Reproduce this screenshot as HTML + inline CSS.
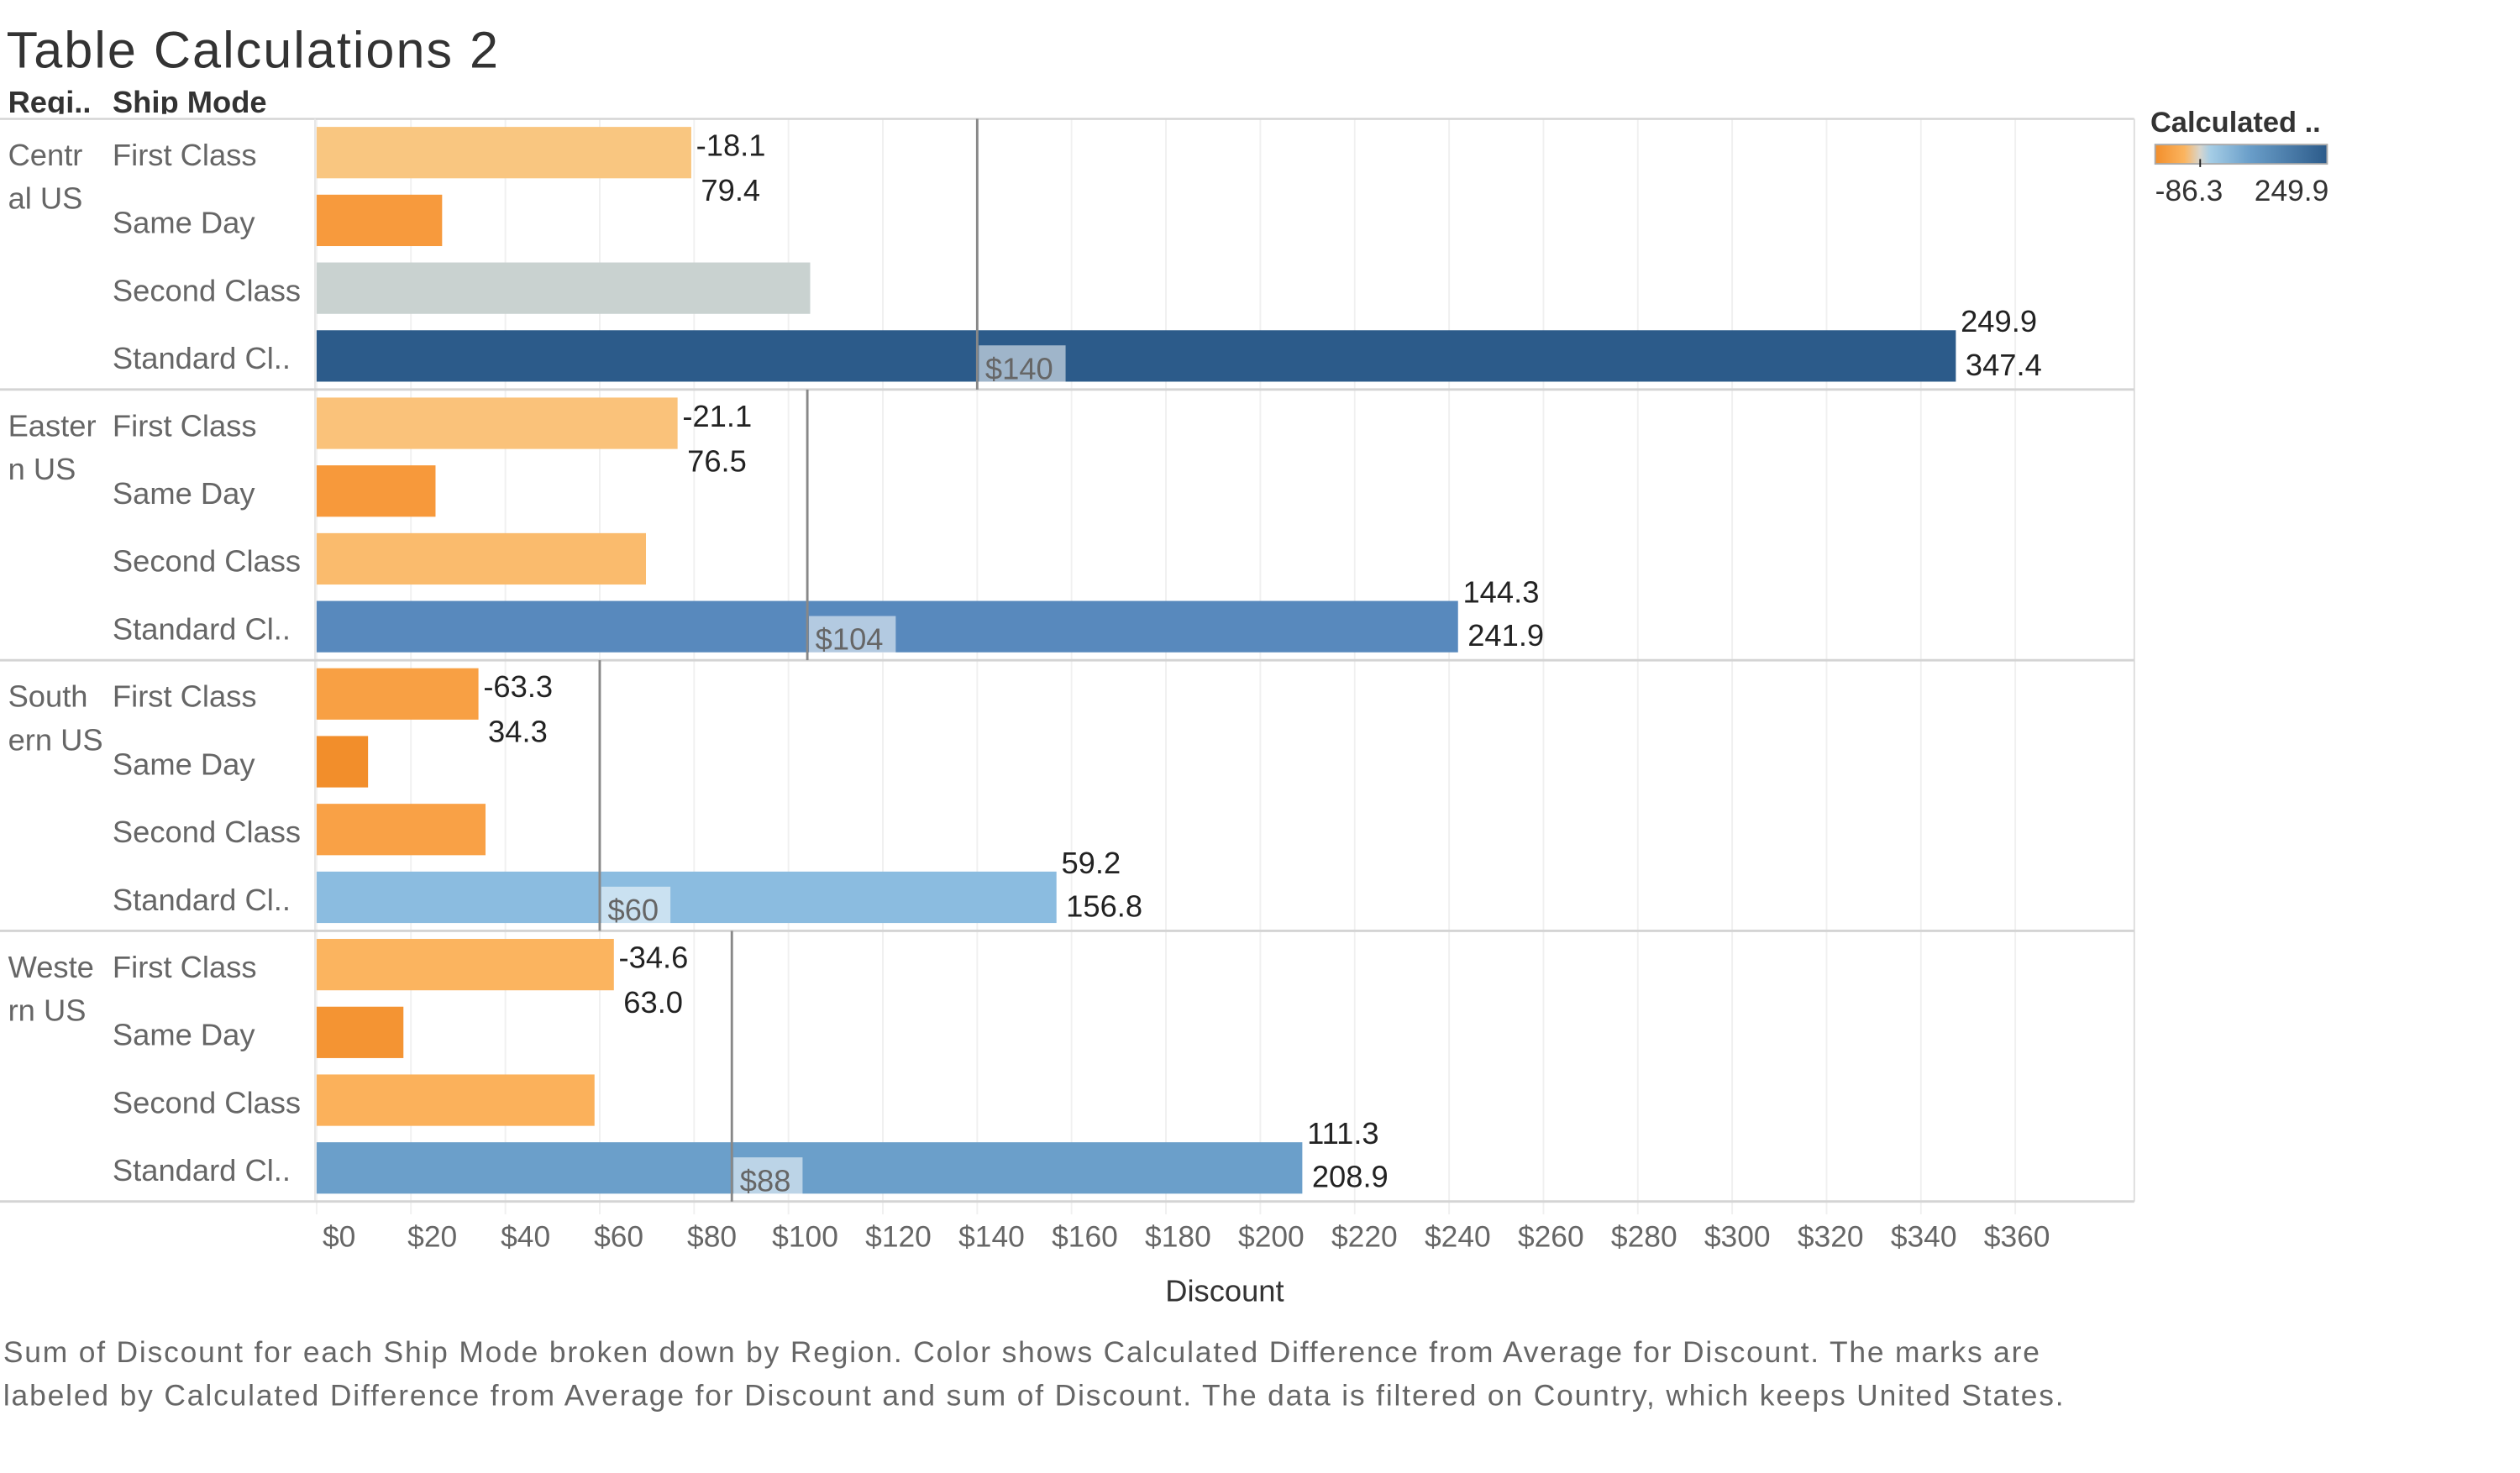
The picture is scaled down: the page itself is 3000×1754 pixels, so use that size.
<!DOCTYPE html>
<html><head><meta charset="utf-8"><style>
html,body{margin:0;padding:0;background:#fff;}
svg{display:block;font-family:"Liberation Sans",sans-serif;}
</style></head><body>
<svg id="chart" width="3000" height="1754" viewBox="0 0 1568 917" preserveAspectRatio="none" xmlns="http://www.w3.org/2000/svg">
<text x="4" y="42" font-size="32" fill="#333" textLength="306">Table Calculations 2</text>
<g id="grid"></g><g id="marks"></g><g id="labels"></g>
</svg>
<script>
const regions = ["Central US","Eastern US","Southern US","Western US"];
const regionLines = [["Centr","al US"],["Easter","n US"],["South","ern US"],["Weste","rn US"]];
const shipModes = ["First Class","Same Day","Second Class","Standard Cl.."];
const discount = [
  [79.4, 26.6, 104.6, 347.4],
  [76.5, 25.2, 69.8, 241.9],
  [34.3, 10.9, 35.8, 156.8],
  [63.0, 18.4, 58.9, 208.9]
];
const diffFromAvg = [
  [-18.1, -70.9, 7.1, 249.9],
  [-21.1, -72.4, -27.8, 144.3],
  [-63.3, -86.3, -61.8, 59.2],
  [-34.6, -79.2, -38.7, 111.3]
];
const refAvg = [140, 104, 60, 88];
const refLabels = ["$140","$104","$60","$88"];
const xTicks = [0,20,40,60,80,100,120,140,160,180,200,220,240,260,280,300,320,340,360];

const NS="http://www.w3.org/2000/svg";
const svg=document.getElementById('chart');
const G=document.getElementById('grid'),M=document.getElementById('marks'),L=document.getElementById('labels');
const X0=197, K=2.936, PT=74, RH=168.5, ROW=42.2, PR=1328;
const x=v=>X0+v*K;
const xl=v=>211+v*2.9;
function el(t,a,p,txt){const e=document.createElementNS(NS,t);for(const k in a)e.setAttribute(k,a[k]);if(txt!==undefined)e.textContent=txt;p.appendChild(e);return e;}
function hex(h){return [1,3,5].map(i=>parseInt(h.substr(i,2),16));}
function lerpStops(stops,t){for(let i=1;i<stops.length;i++){if(t<=stops[i][0]){const a=stops[i-1],b=stops[i];const f=(t-a[0])/(b[0]-a[0]);const c1=hex(a[1]),c2=hex(b[1]);return 'rgb('+c1.map((c,j)=>Math.round(c+(c2[j]-c)*f)).join(',')+')';}}return stops[stops.length-1][1];}
const negStops=[[0,'#d8d5cc'],[0.15,'#f9cb8b'],[0.4,'#fbb45f'],[0.8,'#f89c3f'],[1,'#f28e2b']];
const posStops=[[0,'#d8d5cc'],[0.03,'#c8d2d0'],[0.1,'#a8cde4'],[0.24,'#8abce0'],[0.45,'#6a9ec9'],[0.58,'#5889bd'],[1,'#2c5b8a']];
function color(d){return d<0?lerpStops(negStops,Math.min(1,-d/86.3)):lerpStops(posStops,Math.min(1,d/249.9));}

xTicks.forEach(v=>{const g=el('line',{x1:x(v),x2:x(v),y1:PT,y2:PT+4*RH+8,stroke:'#f0f0f0','stroke-width':1},G);
 const t=el('text',{x:xl(v),y:776,'font-size':18.5,fill:'#666','text-anchor':'middle'},L,'$'+v);});
const cp=el('clipPath',{id:'hc'},svg);el('rect',{x:0,y:50,width:300,height:21},cp);
const hdr=el('g',{'clip-path':'url(#hc)'},L);
let h1=el('text',{x:5,y:70,'font-size':19,fill:'#333','font-weight':'bold'},hdr,'Regi..');
let h2=el('text',{x:70,y:70,'font-size':19,fill:'#333','font-weight':'bold'},hdr,'Ship Mode');
el('line',{x1:0,x2:PR,y1:PT,y2:PT,stroke:'#d4d4d4','stroke-width':1.2},G);
el('line',{x1:196,x2:196,y1:PT,y2:PT+4*RH,stroke:'#e6e6e6'},G);
el('line',{x1:PR,x2:PR,y1:PT,y2:PT+4*RH,stroke:'#dcdcdc'},G);

regions.forEach((r,ri)=>{
  const top=PT+ri*RH;
  const sep=el('line',{x1:0,x2:PR,y1:top+RH,y2:top+RH,stroke:'#d4d4d4','stroke-width':1.5},G);
  
  regionLines[ri].forEach((s,k)=>{const t=el('text',{x:5,y:top+29+k*27,'font-size':19,fill:'#666'},L,s);});
  shipModes.forEach((m,mi)=>{
    const rt=top+mi*ROW, by=rt+5, v=discount[ri][mi], d=diffFromAvg[ri][mi];
    const t=el('text',{x:70,y:rt+29,'font-size':19,fill:'#666'},L,m);
    const b=el('rect',{x:x(0),y:by,width:x(v)-x(0),height:32,fill:color(d)},M);
    
    
    if(mi===0||mi===3){
      const o=mi===0?[18,46]:[1,28];
      const a1=el('text',{x:x(v)+3,y:by+o[0],'font-size':19,fill:'#222'},L,d.toFixed(1));
      const a2=el('text',{x:x(v)+6,y:by+o[1],'font-size':19,fill:'#222'},L,v.toFixed(1));
    }
  });
  const ax=x(refAvg[ri]);
  const rl=el('line',{x1:ax,x2:ax,y1:top,y2:top+RH,stroke:'#888','stroke-width':1.5},L);
  
  const bx=el('rect',{x:ax+1,y:top+141,width:refLabels[ri].length*11+10,height:23,fill:'rgba(255,255,255,0.55)'},L);
  
  const rt2=el('text',{x:ax+5,y:top+162,'font-size':19,fill:'#666'},L,refLabels[ri]);
  
});
let at=el('text',{x:762,y:810,'font-size':19,fill:'#333','text-anchor':'middle'},L,'Discount');
let c1=el('text',{x:2,y:848,'font-size':18.5,fill:'#666',textLength:1267},L,'Sum of Discount for each Ship Mode broken down by Region.  Color shows Calculated Difference from Average for Discount.  The marks are');

let c2=el('text',{x:2,y:875,'font-size':18.5,fill:'#666',textLength:1282},L,'labeled by Calculated Difference from Average for Discount and sum of Discount. The data is filtered on Country, which keeps United States.');

const defs=el('defs',{},svg);const lg=el('linearGradient',{id:'lg'},defs);
[[0,'#f28e2b'],[0.17,'#fbb45f'],[0.26,'#d8d5cc'],[0.32,'#a5cde6'],[0.55,'#6a9ec9'],[1,'#2c5b8a']].forEach(s=>el('stop',{offset:s[0],'stop-color':s[1]},lg));
let lt=el('text',{x:1338,y:82,'font-size':18,fill:'#333','font-weight':'bold'},L,'Calculated ..');
let lb=el('rect',{x:1341,y:90,width:107,height:12,fill:'url(#lg)',stroke:'#aaa','stroke-width':1},L);
el('line',{x1:1369,x2:1369,y1:99,y2:104,stroke:'#222'},L);
let l1=el('text',{x:1341,y:125,'font-size':18.5,fill:'#333'},L,'-86.3');
let l2=el('text',{x:1449,y:125,'font-size':18.5,fill:'#333','text-anchor':'end'},L,'249.9');
</script>
</body></html>
